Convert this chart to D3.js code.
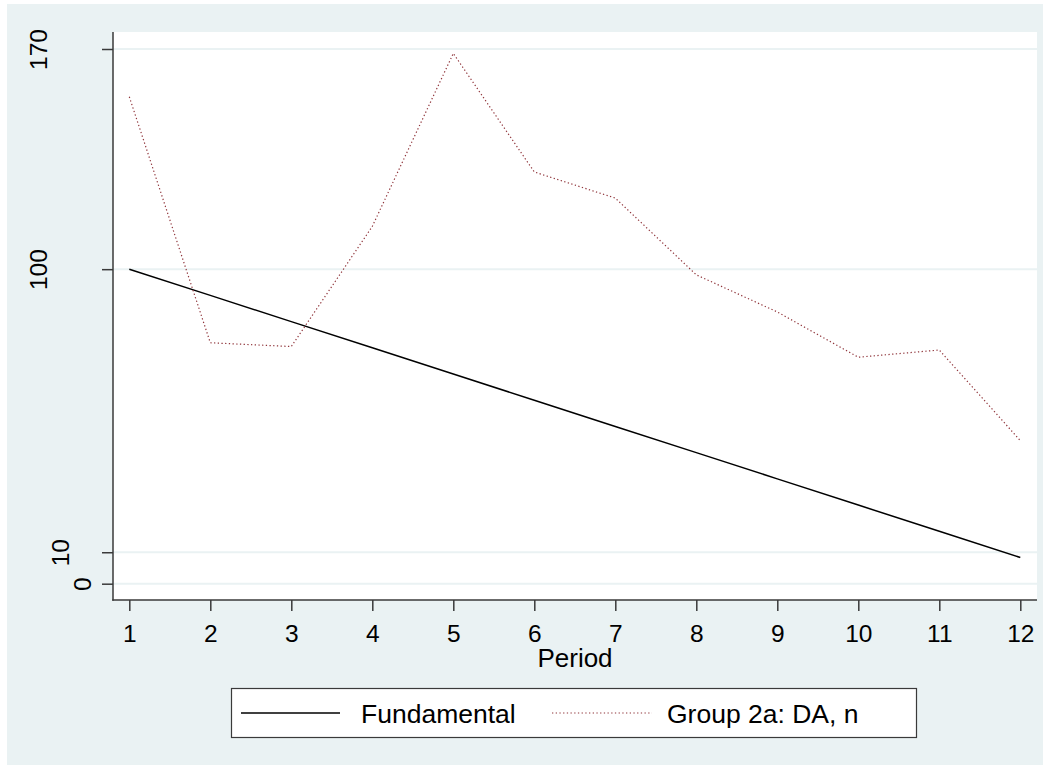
<!DOCTYPE html>
<html>
<head>
<meta charset="utf-8">
<script src="https://cdn.jsdelivr.net/npm/d3@7"></script>
<style>
  html, body { margin: 0; padding: 0; background: #ffffff; }
  svg { display: block; }
  text { font-family: "Liberation Sans", Arial, Helvetica, sans-serif; fill: #000; }
</style>
</head>
<body>
<svg id="chart" width="1050" height="769"></svg>
<script>
// Periods and series values
const periods = [1, 2, 3, 4, 5, 6, 7, 8, 9, 10, 11, 12];
const fundamental = [100, 91.67, 83.33, 75, 66.67, 58.33, 50, 41.67, 33.33, 25, 16.67, 8.33];
const group2a = [154.8, 76.6, 75.4, 113.6, 168.6, 130.9, 122.6, 98.2, 86.4, 72.0, 74.3, 45.5];
const yTicks = [0, 10, 100, 170];
const xTicks = [1, 2, 3, 4, 5, 6, 7, 8, 9, 10, 11, 12];
const seriesNames = ["Fundamental", "Group 2a: DA, n"];

const svg = d3.select("#chart");
const W = 1050, H = 769;

// Graph region background
svg.append("rect").attr("x", 7).attr("y", 4).attr("width", W - 14).attr("height", H - 8)
  .attr("fill", "#EAF2F3");

// Plot region
const plot = { left: 113, top: 32, right: 1037, bottom: 600 };
svg.append("rect")
  .attr("x", plot.left).attr("y", plot.top)
  .attr("width", plot.right - plot.left).attr("height", plot.bottom - plot.top)
  .attr("fill", "#ffffff");

const x = d3.scaleLinear().domain([1, 12]).range([129.3, 1020.3]);
const y = d3.scaleLinear().domain([0, 170]).range([583.7, 49]);

// Gridlines
svg.append("g").selectAll("line").data(yTicks).join("line")
  .attr("x1", plot.left).attr("x2", plot.right)
  .attr("y1", d => y(d)).attr("y2", d => y(d))
  .attr("stroke", "#EAF2F3").attr("stroke-width", 2);

// Y axis
const yAxis = d3.axisLeft(y).tickValues(yTicks).tickSize(11).tickSizeOuter(0).tickFormat(d3.format("d"));
const gy = svg.append("g").attr("transform", `translate(${plot.left},0)`).call(yAxis);
gy.select(".domain").remove();
gy.selectAll(".tick line").attr("stroke", "#3a3a3a").attr("stroke-width", 1.5);
gy.selectAll(".tick text")
  .attr("font-size", 24.5)
  .attr("text-anchor", "middle")
  .attr("dy", 0)
  .attr("x", null)
  .attr("transform", d => {
    const len = String(d).length;
    return `translate(${-22 * len},0) rotate(-90)`;
  });
svg.append("line")
  .attr("x1", plot.left).attr("x2", plot.left)
  .attr("y1", plot.top).attr("y2", plot.bottom + 0.75)
  .attr("stroke", "#3a3a3a").attr("stroke-width", 1.5);

// X axis
const xAxis = d3.axisBottom(x).tickValues(xTicks).tickSize(11).tickSizeOuter(0).tickPadding(12).tickFormat(d3.format("d"));
const gx = svg.append("g").attr("transform", `translate(0,${plot.bottom})`).call(xAxis);
gx.select(".domain").remove();
gx.selectAll(".tick line").attr("stroke", "#3a3a3a").attr("stroke-width", 1.5);
gx.selectAll(".tick text").attr("font-size", 24.5).attr("dy", 0).attr("y", 42);
svg.append("line")
  .attr("x1", plot.left - 0.75).attr("x2", plot.right)
  .attr("y1", plot.bottom).attr("y2", plot.bottom)
  .attr("stroke", "#3a3a3a").attr("stroke-width", 1.5);

// Axis title
svg.append("text").attr("x", 575).attr("y", 667)
  .attr("text-anchor", "middle").attr("font-size", 26).text("Period");

// Series lines
const line = d3.line().x((d, i) => x(periods[i])).y(d => y(d));
svg.append("path").datum(fundamental)
  .attr("d", line).attr("fill", "none")
  .attr("stroke", "#000").attr("stroke-width", 1.5);
svg.append("path").datum(group2a)
  .attr("d", line).attr("fill", "none")
  .attr("stroke", "#90353B").attr("stroke-width", 1.2)
  .attr("stroke-dasharray", "1.3,2.4");

// Legend
const lg = svg.append("g");
lg.append("rect").attr("x", 231.5).attr("y", 688.5).attr("width", 685).attr("height", 49)
  .attr("fill", "#fff").attr("stroke", "#3a3a3a").attr("stroke-width", 1.2);
lg.append("line").attr("x1", 241).attr("x2", 340).attr("y1", 713).attr("y2", 713)
  .attr("stroke", "#000").attr("stroke-width", 1.5);
lg.append("text").attr("x", 361).attr("y", 722.5).attr("font-size", 26.5)
  .text(seriesNames[0]);
lg.append("line").attr("x1", 552).attr("x2", 652).attr("y1", 713).attr("y2", 713)
  .attr("stroke", "#90353B").attr("stroke-width", 1.2).attr("stroke-dasharray", "1.3,2.4");
lg.append("text").attr("x", 667).attr("y", 722.5).attr("font-size", 26.5)
  .text(seriesNames[1]);
</script>
</body>
</html>
